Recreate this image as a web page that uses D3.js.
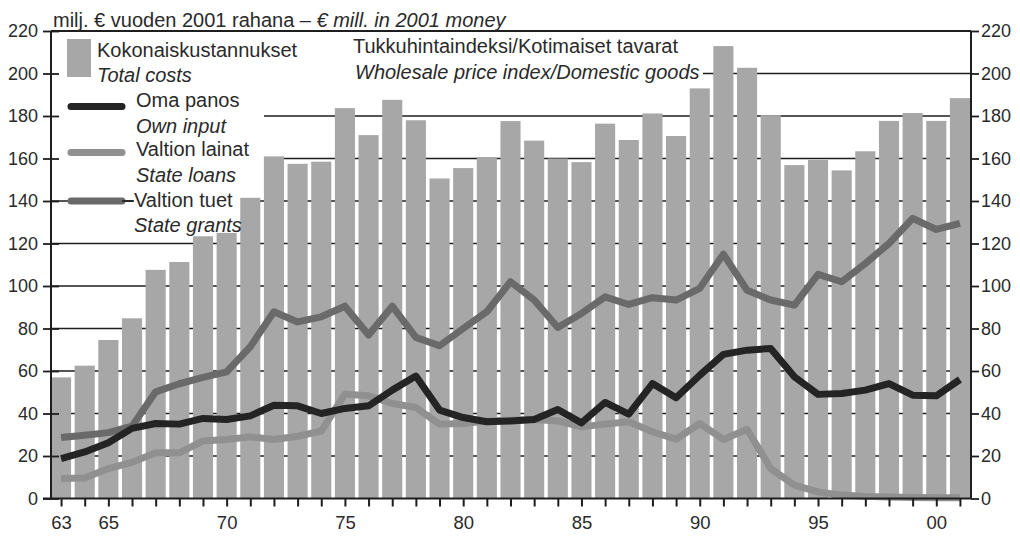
<!DOCTYPE html>
<html>
<head>
<meta charset="utf-8">
<script src="https://cdn.jsdelivr.net/npm/d3@7"></script>
<style>
  html, body { margin: 0; padding: 0; background: #fff; }
  svg { display: block; }
  text { font-family: "Liberation Sans", Arial, sans-serif; fill: #2a2a2a; }
</style>
</head>
<body>
<svg id="chart" width="1020" height="537"></svg>
<script>
// ---- data ----
const years = d3.range(1963, 2002);
const totalCosts = [57, 62.5, 74.6, 84.8, 107.6, 111.3, 123.4, 125, 141.5, 161, 157.5, 158.5, 183.7, 171, 187.6, 178, 150.6, 155.5, 160.7, 177.6,
                    168.4, 160, 158.3, 176.4, 168.7, 181.2, 170.6, 193, 212.9, 202.7, 180.4, 156.9, 159.3, 154.4, 163.4, 177.7, 181.4, 177.7, 188.4];
const ownInput = [18.8, 21.9, 26.2, 33, 35.3, 35, 37.7, 37.2, 38.9, 43.9, 43.6, 40, 42.4, 43.6, 51, 57.6, 41.6, 38.1, 36.1, 36.5,
                  37.2, 41.9, 35.6, 45.2, 39.7, 54.1, 47.4, 58, 67.8, 69.8, 70.6, 57.3, 49, 49.4, 51, 54.1, 48.6, 48.3, 56];
const stateLoans = [9.4, 9.7, 14.1, 17, 21.5, 21.5, 27.1, 27.8, 29, 27.8, 29.3, 31.7, 49.1, 48.3, 44.7, 42.8, 35, 35.3, 36.5, 36.8,
                    37.2, 36.5, 33.7, 35, 36.1, 31.4, 27.9, 35.3, 27.8, 32.6, 14.1, 6.3, 3.1, 1.6, 1, 0.7, 0.5, 0.3, 0.3];
const stateGrants = [28.7, 29.8, 31, 34, 50.2, 54, 57, 59.6, 71.4, 87.9, 83.1, 85.5, 90.5, 76.9, 90.5, 75.8, 71.9, 80, 87.9, 102,
                     93.4, 80.5, 87.1, 94.9, 91.3, 94.5, 93.4, 98.9, 115, 98, 93.4, 91, 105.5, 102, 110.6, 120, 131.8, 126.6, 129.5];
const yTicks = [0, 20, 40, 60, 80, 100, 120, 140, 160, 180, 200, 220];
const xLabelYears = [1963, 1965, 1970, 1975, 1980, 1985, 1990, 1995, 2000];
const xLabels = ["63", "65", "70", "75", "80", "85", "90", "95", "00"];
const titleText = ["milj. € vuoden 2001 rahana – ", "€ mill. in 2001 money"];
const legendLines = [
  {fi: "Oma panos", en: "Own input", key: "own"},
  {fi: "Valtion lainat", en: "State loans", key: "loans"},
  {fi: "Valtion tuet", en: "State grants", key: "grants"}
];
const indexText = ["Tukkuhintaindeksi/Kotimaiset tavarat", "Wholesale price index/Domestic goods"];

// ---- styles ----
const colors = {bar: "#a7a7a7", own: "#242424", loans: "#909090", grants: "#6a6a6a", axis: "#1e1e1e"};

const svg = d3.select("#chart");
const L = 51, R = 971, T = 31, B = 498.5;

const x = d3.scaleBand().domain(years).range([L, 970]).paddingInner(0.15).paddingOuter(0.0);
const y = d3.scaleLinear().domain([0, 220]).range([B, T]);
const cx = yr => x(yr) + x.bandwidth() / 2;

// gridlines
svg.append("g").selectAll("line").data(yTicks.filter(v => v > 0 && v < 220)).join("line")
  .attr("x1", L).attr("x2", R).attr("y1", d => y(d)).attr("y2", d => y(d))
  .attr("stroke", colors.axis).attr("stroke-width", 1.6);

// white legend backgrounds
svg.append("rect").attr("x", L + 1).attr("y", T + 2).attr("width", 212).attr("height", 158).attr("fill", "#fff");
svg.append("rect").attr("x", 133).attr("y", 189).attr("width", 115).attr("height", 26).attr("fill", "#fff");
svg.append("rect").attr("x", 263).attr("y", T + 2).attr("width", 440).attr("height", 58).attr("fill", "#fff");

// bars
svg.append("g").selectAll("rect").data(years).join("rect")
  .attr("x", d => x(d)).attr("width", x.bandwidth())
  .attr("y", (d, i) => y(totalCosts[i])).attr("height", (d, i) => B - y(totalCosts[i]))
  .attr("fill", colors.bar);

// lines
const lineGen = arr => d3.line().x((d, i) => cx(years[i])).y(d => y(d))(arr);
[["grants", stateGrants], ["loans", stateLoans], ["own", ownInput]].forEach(([k, arr]) => {
  svg.append("path").attr("d", lineGen(arr)).attr("fill", "none")
    .attr("stroke", colors[k]).attr("stroke-width", 7).attr("stroke-linejoin", "round").attr("stroke-linecap", "butt");
});

// frame
svg.append("line").attr("x1", L).attr("x2", R).attr("y1", T).attr("y2", T).attr("stroke", colors.axis).attr("stroke-width", 1.8);
svg.append("line").attr("x1", L).attr("x2", L).attr("y1", T).attr("y2", B).attr("stroke", colors.axis).attr("stroke-width", 2);
svg.append("line").attr("x1", R).attr("x2", R).attr("y1", T).attr("y2", B).attr("stroke", colors.axis).attr("stroke-width", 2);
svg.append("line").attr("x1", 43).attr("x2", R).attr("y1", B).attr("y2", B).attr("stroke", colors.axis).attr("stroke-width", 2);

// left axis
const leftAxis = d3.axisLeft(y).tickValues(yTicks).tickSize(8).tickPadding(5);
const gl = svg.append("g").attr("transform", `translate(${L},0)`).call(leftAxis);
gl.select(".domain").remove();
gl.selectAll(".tick line").attr("x2", 8).attr("x1", -8).attr("stroke", colors.axis).attr("stroke-width", 1.8);
gl.selectAll(".tick text").attr("font-size", 18).attr("fill", "#2a2a2a").attr("font-family", "Liberation Sans, Arial, sans-serif");

// right axis
const rightAxis = d3.axisRight(y).tickValues(yTicks).tickSize(8).tickPadding(2);
const gr = svg.append("g").attr("transform", `translate(${R},0)`).call(rightAxis);
gr.select(".domain").remove();
gr.selectAll(".tick line").attr("stroke", colors.axis).attr("stroke-width", 1.8);
gr.selectAll(".tick text").attr("font-size", 18).attr("fill", "#2a2a2a").attr("font-family", "Liberation Sans, Arial, sans-serif");

// bottom axis
const xAxisScale = d3.scalePoint().domain(years).range([cx(1963), cx(2001)]);
const bottomAxis = d3.axisBottom(xAxisScale).tickSize(8).tickPadding(9)
  .tickFormat(d => { const i = xLabelYears.indexOf(d); return i >= 0 ? xLabels[i] : ""; });
const gb = svg.append("g").attr("transform", `translate(0,${B})`).call(bottomAxis);
gb.select(".domain").remove();
gb.selectAll(".tick line").attr("stroke", colors.axis).attr("stroke-width", 2);
gb.selectAll(".tick text").attr("font-size", 18.5).attr("fill", "#2a2a2a").attr("font-family", "Liberation Sans, Arial, sans-serif");

// title
const tt = svg.append("text").attr("x", 53).attr("y", 27).attr("font-size", 20);
tt.append("tspan").text(titleText[0]);
tt.append("tspan").attr("font-style", "italic").text(titleText[1]);

// legend: total costs
svg.append("rect").attr("x", 67).attr("y", 39).attr("width", 24).attr("height", 38).attr("fill", colors.bar);
svg.append("text").attr("x", 97).attr("y", 57).attr("font-size", 20).text("Kokonaiskustannukset");
svg.append("text").attr("x", 97).attr("y", 82).attr("font-size", 20).attr("font-style", "italic").text("Total costs");

// legend: lines
const legY = [106.5, 152.5, 201];
const legTextY = [107, 156, 206.5];
const legTextX = [136, 136, 134];
legendLines.forEach((d, i) => {
  svg.append("line").attr("x1", 71).attr("x2", 122).attr("y1", legY[i]).attr("y2", legY[i])
    .attr("stroke", colors[d.key]).attr("stroke-width", 7).attr("stroke-linecap", "round");
  svg.append("text").attr("x", legTextX[i]).attr("y", legTextY[i]).attr("font-size", 20).text(d.fi);
  svg.append("text").attr("x", legTextX[i]).attr("y", legTextY[i] + 25.5).attr("font-size", 20).attr("font-style", "italic").text(d.en);
});
// thin connector after grants sample
svg.append("line").attr("x1", 122).attr("x2", 134).attr("y1", legY[2]).attr("y2", legY[2]).attr("stroke", colors.axis).attr("stroke-width", 1.6);

// index legend text
svg.append("text").attr("x", 353).attr("y", 53).attr("font-size", 20).text(indexText[0]);
svg.append("text").attr("x", 355).attr("y", 78.5).attr("font-size", 20).attr("font-style", "italic").text(indexText[1]);
</script>
</body>
</html>
